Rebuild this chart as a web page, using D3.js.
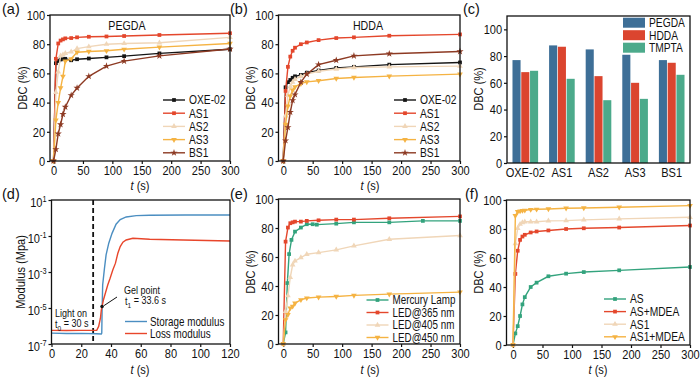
<!DOCTYPE html>
<html>
<head>
<meta charset="utf-8">
<script src="https://cdn.jsdelivr.net/npm/d3@7"></script>
<style>
  body { margin: 0; background: #fff; }
  svg { font-family: Arial, "Liberation Sans", sans-serif; }
</style>
</head>
<body>
<svg id="fig" width="700" height="377"></svg>
<script>
// ---- data ----
const times = [0, 4, 8, 12, 16, 20, 30, 40, 60, 90, 120, 180, 300];

// (a) PEGDA
const pegdaOXE = [0, 67, 68.5, 69.5, 70, 70, 69, 69.7, 70.2, 71, 71.8, 73.7, 76.5];
const pegdaAS1 = [0, 70, 80.5, 82.5, 83.3, 84, 84.2, 84.7, 85.1, 85.3, 85.6, 86.3, 87.5];
const pegdaAS2 = [0, 47, 61, 72, 72.8, 73.7, 74.8, 77, 78.3, 80, 80.5, 81, 84.7];
const pegdaAS3 = [0, 28, 40, 50, 58, 68.4, 70, 74.5, 75, 75.5, 76.5, 78, 80.5];
const pegdaBS1 = [0, 8, 18.7, 25, 32, 37, 45, 50, 58, 65, 68.4, 72, 76.7];

// (b) HDDA
const hddaOXE = [0, 50.5, 54, 55.5, 57, 58, 59, 60.5, 62, 63.8, 64.5, 66, 67.5];
const hddaAS1 = [0, 48, 64.5, 71.5, 75.5, 77.6, 80, 81.2, 82.8, 84.2, 84.7, 85.8, 86.7];
const hddaAS2 = [0, 31, 45, 51, 54, 56, 58, 59.5, 61.5, 63, 64, 64.5, 65];
const hddaAS3 = [0, 25, 37.5, 44.5, 48.5, 50.8, 53, 54.2, 55, 56.5, 57.2, 58.1, 59.5];
const hddaBS1 = [0, 14, 23, 33.5, 41.5, 45.5, 54, 59.5, 66, 69, 72, 73.5, 75];

// (c) final DBC per initiator
const initiators = ["OXE-02", "AS1", "AS2", "AS3", "BS1"];
const resins = ["PEGDA", "HDDA", "TMPTA"];
const barPEGDA = [77, 88, 85, 81, 77];
const barHDDA = [68, 87, 65, 60, 75];
const barTMPTA = [69, 63, 47, 48, 66];

// (d) rheology, [t, modulus]
const storageModulus = [[0, 4e-7], [10, 3.8e-7], [20, 3.9e-7], [30, 3.7e-7], [33.5, 3.6e-7], [33.8, 4e-7],
  [34, 6.4e-6], [34.4, 1.9e-4], [35.6, 1.6e-3], [36.7, 8.9e-3], [38.5, 0.04], [40.7, 0.14], [43.4, 0.45],
  [46.2, 0.81], [50.2, 1.14], [57, 1.35], [66, 1.41], [90, 1.47], [120, 1.48]];
const lossModulus = [[0, 5.7e-7], [10, 5.6e-7], [20, 5.7e-7], [30.4, 5.7e-7], [31.7, 9.5e-7], [32.9, 2.7e-6],
  [33.5, 7.9e-6], [34, 1.2e-5], [34.9, 2.8e-5], [36.2, 6.6e-5], [37.8, 1.9e-4], [39.4, 4.5e-4], [41.2, 1.3e-3],
  [43, 3.1e-3], [44.6, 0.011], [46.2, 0.026], [48, 0.045], [50.2, 0.06], [54.7, 0.075], [66, 0.066],
  [88.5, 0.06], [120, 0.053]];
const gelPoint = [34, 1.2e-5];
const lightOn = 28;
const logTicks = [1e1, 1e-1, 1e-3, 1e-5, 1e-7];

// (e) light sources
const mercuryTimes = [0, 4, 7, 10, 14, 20, 30, 40, 50, 57, 90, 120, 180, 237, 300];
const mercury = [0, 8, 42, 62, 71.8, 77.5, 80.3, 82.6, 82.6, 82.3, 83, 83.9, 83.9, 84.9, 84.9];
const led365 = [0, 70.6, 80.3, 83.3, 83.9, 84.4, 84.4, 84.9, 85.3, 85.8, 85.8, 86.7, 88];
const led405 = [0, 22.5, 33.3, 45.9, 54.6, 57.3, 59.6, 61.9, 63, 64.9, 67.7, 72.2, 74.8];
const led450 = [0, 16.7, 20.2, 24.8, 26, 28.2, 30.5, 31.7, 32.3, 32.8, 33.5, 34.4, 35.8];

// (f) amine
const asOnly = [0, 8, 13, 20, 28, 33, 40, 43, 47.4, 49.2, 50.3, 51.5, 53.8];
const asMDEA = [0, 49, 65, 72.5, 74.8, 76, 77.6, 78.3, 79, 80, 80.5, 81, 82.4];
const as1Only = [0, 70, 80.5, 83.3, 84.4, 85, 85, 85, 85.6, 85.8, 86.3, 87, 88.1];
const as1MDEA = [0, 89.2, 92, 92.4, 92.7, 92.9, 93.4, 93.6, 93.8, 94.3, 94.5, 95, 96.1];

// ---- colours / markers ----
const cBlack = "#151515", cRed = "#e4472c", cBeige = "#f0d6b8", cYellow = "#f5b343",
      cBrown = "#8d3a23", cGreen = "#33a37d";
const barColors = ["#3e6f97", "#db452f", "#4caa8b"];

const svg = d3.select("#fig");
const tickFont = 13.5;
const SX = 0.82; // the figure uses a narrow sans font, squeeze text horizontally

// text helper: anchored at (x,y), squeezed along the reading direction
function txt(parent, x, y, s, size, opts = {}) {
  return parent.append("text")
    .attr("transform", `translate(${x},${y})` + (opts.rotate ? ` rotate(${opts.rotate})` : "") + ` scale(${SX},1)`)
    .attr("text-anchor", opts.anchor || "start")
    .attr("dy", opts.dy == null ? "0.35em" : opts.dy)
    .style("font-size", size + "px").attr("fill", "#111")
    .text(s);
}

function frame(g, box) {
  g.append("rect")
    .attr("x", box.l).attr("y", box.t)
    .attr("width", box.r - box.l).attr("height", box.b - box.t)
    .attr("fill", "none").attr("stroke", "#111").attr("stroke-width", 1.3);
}

function styleAxis(sel) {
  sel.select(".domain").remove();
  sel.selectAll(".tick line").attr("stroke", "#111").attr("stroke-width", 1.2);
  sel.selectAll(".tick text").attr("fill", "#111").style("font-size", tickFont + "px")
    .attr("transform", `scale(${SX},1)`);
}

function yTitle(x, y, label) {
  txt(svg, x, y, label, 13.5, { rotate: -90, anchor: "middle" });
}

function xTitle(x, y) {
  const t = txt(svg, x, y, null, 13.5, { anchor: "middle", dy: 0 });
  t.append("tspan").style("font-style", "italic").text("t");
  t.append("tspan").text(" (s)");
}

function panelLabel(x, y, s) {
  svg.append("text").attr("x", x).attr("y", y)
    .style("font-size", "14.5px").attr("fill", "#111").text(s);
}

function symbolPath(type) {
  const map = {
    square: d3.symbol(d3.symbolSquare, 14),
    up: d3.symbol(d3.symbolTriangle, 14),
    down: d3.symbol(d3.symbolTriangle, 14),
    star: d3.symbol(d3.symbolStar, 16)
  };
  return map[type]();
}

function drawMarker(g, x, y, type, color) {
  g.append("path")
    .attr("d", symbolPath(type))
    .attr("transform", `translate(${x},${y})` + (type === "down" ? " rotate(180)" : ""))
    .attr("fill", color);
}

function linePanel(box, xMin, series, legend) {
  const g = svg.append("g");
  const x = d3.scaleLinear().domain([xMin, 300]).range([box.l, box.r]);
  const y = d3.scaleLinear().domain([0, 100]).range([box.b, box.t]);

  g.append("g").attr("transform", `translate(0,${box.b})`)
    .call(d3.axisBottom(x).tickValues([0, 50, 100, 150, 200, 250, 300]).tickSize(3).tickPadding(1.5))
    .call(styleAxis);
  g.append("g").attr("transform", `translate(${box.l},0)`)
    .call(d3.axisLeft(y).tickValues([0, 20, 40, 60, 80, 100]).tickSize(3).tickPadding(3))
    .call(styleAxis);

  const line = d3.line().x(d => x(d[0])).y(d => y(d[1]));
  series.forEach(s => {
    const pts = s.t.map((t, i) => [t, s.v[i]]);
    g.append("path").datum(pts)
      .attr("d", line).attr("fill", "none")
      .attr("stroke", s.color).attr("stroke-width", 1.4);
    pts.forEach(p => drawMarker(g, x(p[0]), y(p[1]), s.symbol, s.color));
  });

  frame(g, box);

  // legend
  series.forEach((s, i) => {
    const ly = legend.y + i * legend.dy;
    g.append("line").attr("x1", legend.x).attr("x2", legend.x + 22)
      .attr("y1", ly).attr("y2", ly).attr("stroke", s.color).attr("stroke-width", 1.4);
    drawMarker(g, legend.x + 11, ly, s.symbol, s.color);
    txt(g, legend.x + 26, ly, s.name, legend.size || 12);
  });
  return g;
}

// ---- (a) ----
const boxA = { l: 50, r: 230, t: 15, b: 161 };
const gA = linePanel(boxA, -6, [
  { name: "OXE-02", t: times, v: pegdaOXE, color: cBlack, symbol: "square" },
  { name: "AS1", t: times, v: pegdaAS1, color: cRed, symbol: "square" },
  { name: "AS2", t: times, v: pegdaAS2, color: cBeige, symbol: "up" },
  { name: "AS3", t: times, v: pegdaAS3, color: cYellow, symbol: "down" },
  { name: "BS1", t: times, v: pegdaBS1, color: cBrown, symbol: "star" }
], { x: 163, y: 100, dy: 13.2, size: 12.5 });
txt(gA, 127, 25, "PEGDA", 13, { anchor: "middle" });
yTitle(22, 88, "DBC (%)");
xTitle(140, 190);
panelLabel(2, 14, "(a)");

// ---- (b) ----
const boxB = { l: 278.5, r: 460, t: 15, b: 161 };
const gB = linePanel(boxB, -8, [
  { name: "OXE-02", t: times, v: hddaOXE, color: cBlack, symbol: "square" },
  { name: "AS1", t: times, v: hddaAS1, color: cRed, symbol: "square" },
  { name: "AS2", t: times, v: hddaAS2, color: cBeige, symbol: "up" },
  { name: "AS3", t: times, v: hddaAS3, color: cYellow, symbol: "down" },
  { name: "BS1", t: times, v: hddaBS1, color: cBrown, symbol: "star" }
], { x: 394, y: 100, dy: 13.2, size: 12.5 });
txt(gB, 368, 25, "HDDA", 13, { anchor: "middle" });
yTitle(250.5, 88, "DBC (%)");
xTitle(370, 190);
panelLabel(230, 14, "(b)");

// ---- (c) ----
const boxC = { l: 507, r: 690, t: 16, b: 163 };
{
  const g = svg.append("g");
  const x0 = d3.scaleBand().domain(initiators).range([boxC.l, boxC.r]).paddingInner(0.3).paddingOuter(0.15);
  const x1 = d3.scaleBand().domain(resins).range([0, x0.bandwidth()]).paddingInner(0.08);
  const y = d3.scaleLinear().domain([0, 110]).range([boxC.b, boxC.t]);
  const vals = [barPEGDA, barHDDA, barTMPTA];

  g.append("g").attr("transform", `translate(0,${boxC.b})`)
    .call(d3.axisBottom(x0).tickSize(0).tickPadding(4))
    .call(styleAxis);
  g.append("g").attr("transform", `translate(${boxC.l},0)`)
    .call(d3.axisLeft(y).tickValues([0, 20, 40, 60, 80, 100]).tickSize(3).tickPadding(3))
    .call(styleAxis);

  initiators.forEach((name, i) => {
    resins.forEach((r, j) => {
      g.append("rect")
        .attr("x", x0(name) + x1(r)).attr("width", x1.bandwidth())
        .attr("y", y(vals[j][i])).attr("height", y(0) - y(vals[j][i]))
        .attr("fill", barColors[j]);
    });
  });
  frame(g, boxC);

  resins.forEach((r, j) => {
    const ly = 22.7 + j * 12.5;
    g.append("rect").attr("x", 623).attr("y", ly - 5).attr("width", 22).attr("height", 10).attr("fill", barColors[j]);
    txt(g, 649, ly, r, 12.5);
  });
}
yTitle(478.5, 89, "DBC (%)");
panelLabel(463, 14, "(c)");

// ---- (d) ----
const boxD = { l: 51.5, r: 230, t: 200, b: 344 };
{
  const g = svg.append("g");
  const x = d3.scaleLinear().domain([0, 120]).range([boxD.l, boxD.r]);
  const y = d3.scaleLog().domain([1e-7, 1e1]).range([boxD.b, boxD.t]);

  g.append("g").attr("transform", `translate(0,${boxD.b})`)
    .call(d3.axisBottom(x).tickValues([0, 20, 40, 60, 80, 100, 120]).tickSize(3).tickPadding(1.5))
    .call(styleAxis);
  const ya = g.append("g").attr("transform", `translate(${boxD.l},0)`)
    .call(d3.axisLeft(y).tickValues(logTicks).tickSize(3).tickPadding(3).tickFormat(""))
    .call(styleAxis);
  ya.selectAll(".tick").each(function (d) {
    const t = d3.select(this).select("text").text(null).attr("dy", "0.45em");
    t.append("tspan").text("10");
    t.append("tspan").attr("dy", "-0.55em").style("font-size", "9px").text(Math.round(Math.log10(d)));
  });

  const line = d3.line().x(d => x(d[0])).y(d => y(d[1]));
  g.append("line").attr("x1", x(lightOn)).attr("x2", x(lightOn)).attr("y1", boxD.t).attr("y2", boxD.b)
    .attr("stroke", "#111").attr("stroke-width", 1.8).attr("stroke-dasharray", "5,3");
  g.append("path").datum(storageModulus).attr("d", line).attr("fill", "none")
    .attr("stroke", "#4b8ec1").attr("stroke-width", 1.4);
  g.append("path").datum(lossModulus).attr("d", line).attr("fill", "none")
    .attr("stroke", "#e8462b").attr("stroke-width", 1.4);
  g.append("circle").attr("cx", x(gelPoint[0])).attr("cy", y(gelPoint[1])).attr("r", 1.8).attr("fill", "#111");
  g.append("line").attr("x1", x(gelPoint[0]) + 2).attr("y1", y(gelPoint[1]) - 1)
    .attr("x2", 117).attr("y2", 297).attr("stroke", "#111").attr("stroke-width", 1);
  frame(g, boxD);

  const ann = (xx, yy, parts) => {
    const t = txt(g, xx, yy, null, 11);
    parts.forEach(p => {
      const s = t.append("tspan").text(p[0]);
      if (p[1] === "sub") s.attr("dy", "0.3em").style("font-size", "8px");
      if (p[1] === "back") s.attr("dy", "-0.3em");
    });
  };
  ann(124, 290, [["Gel point"]]);
  ann(125, 301.5, [["t"], ["1", "sub"], [" =  33.6 s", "back"]]);
  ann(55, 313, [["Light on"]]);
  ann(55, 324.5, [["t"], ["0", "sub"], [" = 30 s", "back"]]);

  [["Storage modulus", "#4b8ec1"], ["Loss modulus", "#e8462b"]].forEach((d, i) => {
    const ly = 321.5 + i * 12;
    g.append("line").attr("x1", 125).attr("x2", 147).attr("y1", ly).attr("y2", ly)
      .attr("stroke", d[1]).attr("stroke-width", 1.4);
    txt(g, 150, ly, d[0], 12);
  });
}
yTitle(20, 272, "Modulus (Mpa)");
xTitle(140, 373.5);
panelLabel(2, 199, "(d)");

// ---- (e) ----
const boxE = { l: 278.5, r: 460, t: 199, b: 344 };
linePanel(boxE, -8, [
  { name: "Mercury Lamp", t: mercuryTimes, v: mercury, color: cGreen, symbol: "square" },
  { name: "LED@365 nm", t: times, v: led365, color: cRed, symbol: "square" },
  { name: "LED@405 nm", t: times, v: led405, color: cBeige, symbol: "up" },
  { name: "LED@450 nm", t: times, v: led450, color: cYellow, symbol: "down" }
], { x: 366.5, y: 300, dy: 12.5, size: 12 });
yTitle(250, 272, "DBC (%)");
xTitle(370, 373.5);
panelLabel(230, 199, "(e)");

// ---- (f) ----
const boxF = { l: 506.5, r: 690, t: 200, b: 345 };
linePanel(boxF, -11, [
  { name: "AS", t: times, v: asOnly, color: cGreen, symbol: "square" },
  { name: "AS+MDEA", t: times, v: asMDEA, color: cRed, symbol: "square" },
  { name: "AS1", t: times, v: as1Only, color: cBeige, symbol: "up" },
  { name: "AS1+MDEA", t: times, v: as1MDEA, color: cYellow, symbol: "down" }
], { x: 604, y: 299, dy: 12.6, size: 12.5 });
yTitle(478.5, 272, "DBC (%)");
xTitle(598, 373.5);
panelLabel(465, 199, "(f)");
</script>
</body>
</html>
